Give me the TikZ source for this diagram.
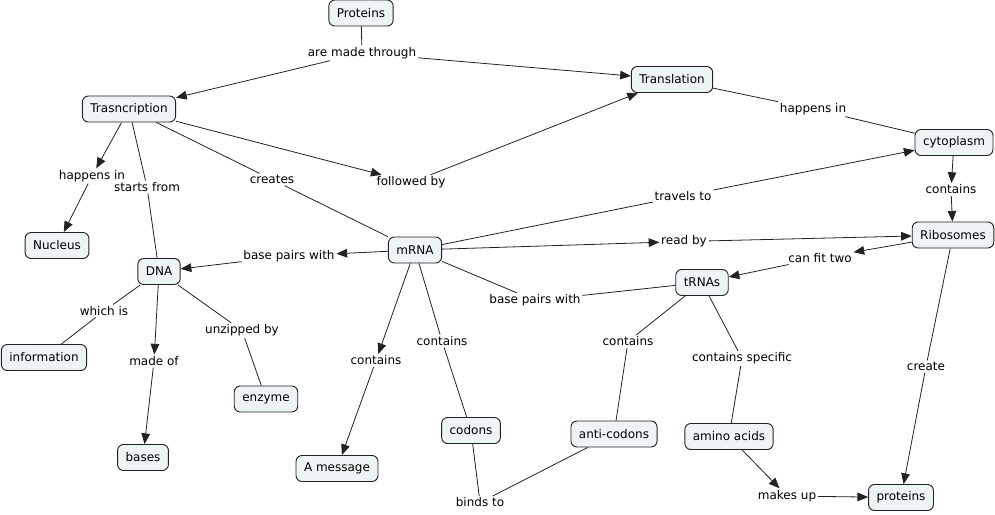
\documentclass[tikz,border=0pt]{standalone}
\usepackage{fontspec}
\setmainfont{DejaVu Sans}
\usetikzlibrary{arrows.meta}
\definecolor{cfill}{HTML}{EEF4F5}
\definecolor{cline}{HTML}{222222}
\tikzset{
  concept/.style={draw=cline, fill=cfill, rounded corners=4.5pt, line width=0.7pt,
    minimum height=19.5pt, inner xsep=6pt, inner ysep=2pt, font=\fontsize{9}{10}\selectfont},
  phrase/.style={inner sep=1.2pt, font=\fontsize{9}{10}\selectfont},
  link/.style={draw=cline, line width=0.6pt},
  arr/.style={link, -{Triangle[length=8pt,width=6.5pt]}}
}
\begin{document}
\begin{tikzpicture}[x=0.75pt,y=-0.75pt]
\useasboundingbox (0,0) rectangle (995,514);
% concepts
\node[concept] (proteinsT) at (361,13) {Proteins};
\node[concept] (translation) at (672,79.5) {Translation};
\node[concept] (transcription) at (129,109) {Trasncription};
\node[concept] (cytoplasm) at (954,142.5) {cytoplasm};
\node[concept] (nucleus) at (57,245.5) {Nucleus};
\node[concept] (dna) at (159,271.5) {DNA};
\node[concept] (mrna) at (415,250) {mRNA};
\node[concept] (ribosomes) at (953,235) {Ribosomes};
\node[concept] (trnas) at (702,282.5) {tRNAs};
\node[concept] (information) at (44,357.5) {information};
\node[concept] (enzyme) at (266,399) {enzyme};
\node[concept] (bases) at (143,457.5) {bases};
\node[concept] (message) at (337,468.5) {A message};
\node[concept] (codons) at (471,430.5) {codons};
\node[concept] (anticodons) at (614,434) {anti-codons};
\node[concept] (amino) at (729,436.5) {amino acids};
\node[concept] (proteins) at (901,497.5) {proteins};
% linking phrases
\node[phrase] (pmade) at (362,53) {are made through};
\node[phrase] (phappT) at (813,109) {happens in};
\node[phrase] (phappN) at (92,176) {happens in};
\node[phrase] (pstarts) at (147,187) {starts from};
\node[phrase] (pcreates) at (272,179.5) {creates};
\node[phrase] (pfollowed) at (411,182.5) {followed by};
\node[phrase] (ptravels) at (683,196) {travels to};
\node[phrase] (pcontC) at (951,189.5) {contains};
\node[phrase] (pbpD) at (289,256) {base pairs with};
\node[phrase] (pread) at (684,241.5) {read by};
\node[phrase] (pfit) at (820,258) {can fit two};
\node[phrase] (pbpT) at (535,300.5) {base pairs with};
\node[phrase] (pwhich) at (104,311) {which is};
\node[phrase] (pmadeof) at (154,361) {made of};
\node[phrase] (punzip) at (242,330.5) {unzipped by};
\node[phrase] (pcontM) at (376,360.5) {contains};
\node[phrase] (pcontCo) at (442,341) {contains};
\node[phrase] (pcontA) at (628,341.5) {contains};
\node[phrase] (pcontS) at (742,358.5) {contains specific};
\node[phrase] (pcreate) at (926,366.5) {create};
\node[phrase] (pbinds) at (480,502.5) {binds to};
\node[phrase] (pmakes) at (787,496) {makes up};
% connectors
\draw[link] (proteinsT) -- (pmade);
\draw[arr] (pmade) -- (transcription);
\draw[arr] (pmade) -- (translation);
\draw[link] (translation) -- (phappT);
\draw[link] (phappT) -- (cytoplasm);
\draw[arr] (transcription) -- (phappN);
\draw[arr] (phappN) -- (nucleus);
\draw[link] (transcription) -- (pstarts);
\draw[link] (pstarts) -- (dna);
\draw[link] (transcription) -- (pcreates);
\draw[link] (pcreates) -- (mrna);
\draw[arr] (transcription) -- (pfollowed);
\draw[arr] (pfollowed) -- (translation);
\draw[link] (mrna) -- (ptravels);
\draw[arr] (ptravels) -- (cytoplasm);
\draw[arr] (cytoplasm) -- (pcontC);
\draw[arr] (pcontC) -- (ribosomes);
\draw[arr] (mrna) -- (pbpD);
\draw[arr] (pbpD) -- (dna);
\draw[arr] (mrna) -- (pread);
\draw[arr] (pread) -- (ribosomes);
\draw[arr] (ribosomes) -- (pfit);
\draw[arr] (pfit) -- (trnas);
\draw[link] (mrna) -- (pbpT);
\draw[link] (pbpT) -- (trnas);
\draw[link] (dna) -- (pwhich);
\draw[link] (pwhich) -- (information);
\draw[arr] (dna) -- (pmadeof);
\draw[arr] (pmadeof) -- (bases);
\draw[link] (dna) -- (punzip);
\draw[link] (punzip) -- (enzyme);
\draw[arr] (mrna) -- (pcontM);
\draw[arr] (pcontM) -- (message);
\draw[link] (mrna) -- (pcontCo);
\draw[link] (pcontCo) -- (codons);
\draw[link] (codons) -- (pbinds);
\draw[link] (pbinds) -- (anticodons);
\draw[link] (trnas) -- (pcontA);
\draw[link] (pcontA) -- (anticodons);
\draw[link] (trnas) -- (pcontS);
\draw[link] (pcontS) -- (amino);
\draw[arr] (amino) -- (pmakes);
\draw[arr] (pmakes) -- (proteins);
\draw[link] (ribosomes) -- (pcreate);
\draw[arr] (pcreate) -- (proteins);
\end{tikzpicture}
\end{document}
